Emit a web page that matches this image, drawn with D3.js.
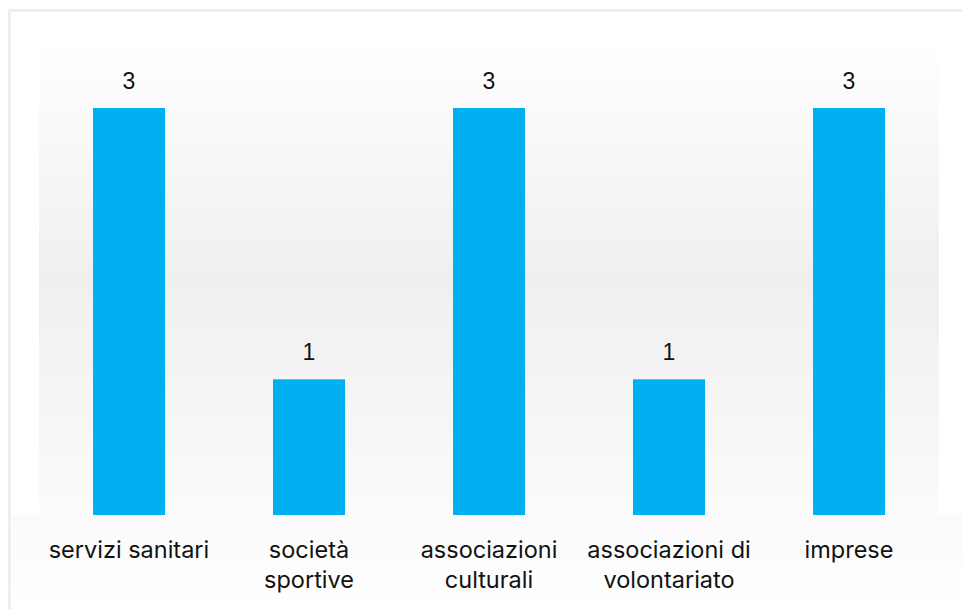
<!DOCTYPE html>
<html>
<head>
<meta charset="utf-8">
<script src="https://cdn.jsdelivr.net/npm/d3@7"></script>
<style>
  html, body { margin: 0; padding: 0; background: #fff; }
  svg { display: block; }
</style>
</head>
<body>
<svg id="chart" width="962" height="609"></svg>
<script>
const categories = [['servizi sanitari'], ['società', 'sportive'], ['associazioni', 'culturali'], ['associazioni di', 'volontariato'], ['imprese']]
const values = [3, 1, 3, 1, 3]

const width = 962
const height = 609
const plot = { left: 39, right: 939, top: 40, bottom: 515 }

const svg = d3.select('#chart')

// card border
svg.append('rect')
  .attr('x', 9.5).attr('y', 10.5)
  .attr('width', width).attr('height', height)
  .attr('fill', '#fff')
  .attr('stroke', '#eeeeee')
  .attr('stroke-width', 3)

const defs = svg.append('defs')
const grad = defs.append('linearGradient')
  .attr('id', 'bg').attr('x1', 0).attr('y1', 0).attr('x2', 0).attr('y2', 1)
grad.append('stop').attr('offset', '0%').attr('stop-color', '#ffffff')
grad.append('stop').attr('offset', '50%').attr('stop-color', '#efefef')
grad.append('stop').attr('offset', '100%').attr('stop-color', '#fbfbfb')

const grad2 = defs.append('linearGradient')
  .attr('id', 'bg2').attr('x1', 0).attr('y1', 0).attr('x2', 0).attr('y2', 1)
grad2.append('stop').attr('offset', '0%').attr('stop-color', '#fafafa')
grad2.append('stop').attr('offset', '100%').attr('stop-color', '#ffffff')

svg.append('rect')
  .attr('x', plot.left).attr('y', plot.top)
  .attr('width', plot.right - plot.left).attr('height', plot.bottom - plot.top)
  .attr('fill', 'url(#bg)')

svg.append('rect')
  .attr('x', 12).attr('y', plot.bottom)
  .attr('width', width - 12).attr('height', height - plot.bottom)
  .attr('fill', 'url(#bg2)')

const x = d3.scaleBand()
  .domain(d3.range(values.length))
  .range([plot.left, plot.right])
  .paddingInner(0.6)
  .paddingOuter(0.3)

const y = d3.scaleLinear()
  .domain([0, 3])
  .range([plot.bottom, 108])

svg.selectAll('rect.bar')
  .data(values)
  .join('rect')
  .attr('class', 'bar')
  .attr('x', (d, i) => x(i))
  .attr('y', d => y(d))
  .attr('width', x.bandwidth())
  .attr('height', d => y(0) - y(d))
  .attr('fill', '#00b0f0')

svg.selectAll('text.val')
  .data(values)
  .join('text')
  .attr('class', 'val')
  .attr('x', (d, i) => x(i) + x.bandwidth() / 2)
  .attr('y', d => y(d) - 19)
  .attr('text-anchor', 'middle')
  .style('font-family', "'Liberation Sans', Arial, sans-serif")
  .style('font-size', '23px')
  .attr('fill', '#111')
  .text(d => d)

const labels = svg.selectAll('text.cat')
  .data(categories)
  .join('text')
  .attr('class', 'cat')
  .attr('text-anchor', 'middle')
  .style('font-family', "Inter, 'Open Sans', sans-serif")
  .style('font-size', '23.5px')
  .attr('fill', '#111')

labels.selectAll('tspan')
  .data((d, i) => d.map(t => ({ t, i })))
  .join('tspan')
  .attr('x', d => x(d.i) + x.bandwidth() / 2)
  .attr('y', (d, j) => 558 + j * 30)
  .text(d => d.t)
</script>
</body>
</html>
